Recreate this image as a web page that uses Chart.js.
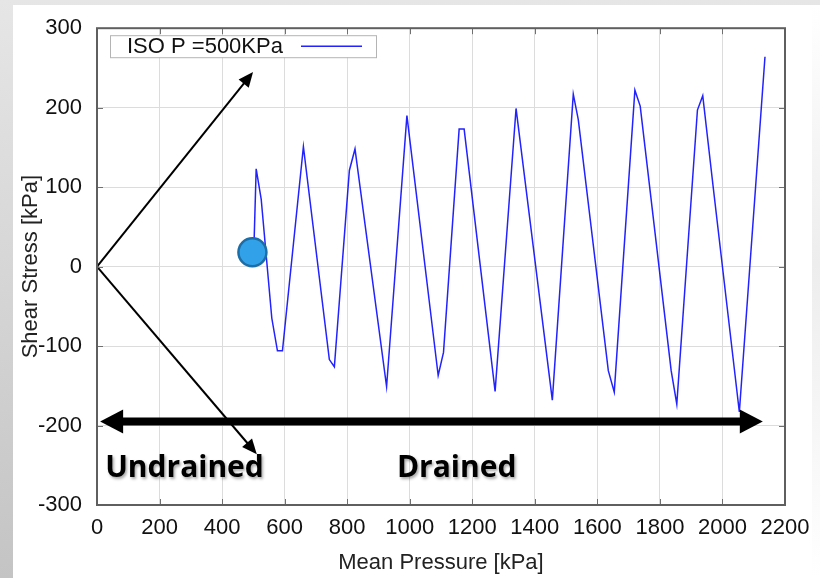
<!DOCTYPE html>
<html>
<head>
<meta charset="utf-8">
<script src="https://cdn.jsdelivr.net/npm/chart.js@4/dist/chart.umd.min.js"></script>
<style>
  html, body { margin: 0; padding: 0; width: 820px; height: 578px; overflow: hidden; }
  body { position: relative; background: linear-gradient(to bottom, #e6e6e6, #c4c4c4); }
  #sheet { position: absolute; left: 13px; top: 5px; right: 0; bottom: 0; background: #ffffff; }
  #edge { position: absolute; left: 812px; top: 5px; width: 8px; bottom: 0;
          background: linear-gradient(to bottom, #ffffff, #ededed 45%, #ffffff); }
  canvas { position: absolute; left: 0; top: 0; }
</style>
</head>
<body>
<div id="sheet"></div>
<div id="edge"></div>
<canvas id="chart" width="820" height="578"></canvas>
<script>
// Cyclic loading path: mean effective pressure p [kPa] vs shear stress q [kPa]
const seriesLabel = 'ISO P =500KPa';
const meanPressure = [500, 509, 525, 559, 577, 593, 660, 743, 759, 807, 825, 926, 991, 1091, 1108,
                      1158, 1174, 1273, 1340, 1456, 1523, 1539, 1635, 1654, 1720, 1737, 1836, 1854,
                      1920, 1937, 1971, 2054, 2136];
const shearStress  = [0, 123, 85, -65, -106, -106, 151, -117, -126, 121, 148, -151, 190, -137, -108,
                      173, 173, -157, 199, -168, 217, 185, -131, -158, 222, 202, -131, -173,
                      197, 215, 98, -183, 264];

// Initial state marker
const startPressure = [497];
const startShear = [18];

// Axis ticks
const xTicks = [0, 200, 400, 600, 800, 1000, 1200, 1400, 1600, 1800, 2000, 2200];
const yTicks = [-300, -200, -100, 0, 100, 200, 300];

// Annotation labels
const phaseLabels = ['Undrained', 'Drained'];

const FONT = '"Liberation Sans", Arial, Helvetica, sans-serif';

const curvePoints = meanPressure.map((p, i) => ({ x: p, y: shearStress[i] }));
const markerPoints = startPressure.map((p, i) => ({ x: p, y: startShear[i] }));

// Arrows and captions, placed in data units
const arrows = [
  { from: [0, 0], to: [499, 245], width: 2, head: 15, half: 6.5, both: false },
  { from: [0, 0], to: [511, -236], width: 2, head: 15, half: 6.5, both: false },
  { from: [10, -195], to: [2129, -195], width: 8, head: 23, half: 12, both: true }
];
const captions = [
  { text: phaseLabels[0], at: [26, -265] },
  { text: phaseLabels[1], at: [959, -265] }
];

function drawHead(ctx, x0, y0, x1, y1, len, half) {
  const a = Math.atan2(y1 - y0, x1 - x0);
  ctx.beginPath();
  ctx.moveTo(x1, y1);
  ctx.lineTo(x1 - len * Math.cos(a) + half * Math.sin(a), y1 - len * Math.sin(a) - half * Math.cos(a));
  ctx.lineTo(x1 - len * Math.cos(a) - half * Math.sin(a), y1 - len * Math.sin(a) + half * Math.cos(a));
  ctx.closePath();
  ctx.fill();
}

const decorations = {
  id: 'decorations',
  afterDatasetsDraw(chart) {
    const { ctx, scales: { x, y } } = chart;
    ctx.save();
    ctx.fillStyle = '#000';
    ctx.strokeStyle = '#000';
    arrows.forEach(a => {
      let x0 = x.getPixelForValue(a.from[0]), y0 = y.getPixelForValue(a.from[1]);
      let x1 = x.getPixelForValue(a.to[0]), y1 = y.getPixelForValue(a.to[1]);
      const ang = Math.atan2(y1 - y0, x1 - x0);
      const sx = a.both ? x0 + Math.cos(ang) * a.head * 0.8 : x0;
      const sy = a.both ? y0 + Math.sin(ang) * a.head * 0.8 : y0;
      const ex = x1 - Math.cos(ang) * a.head * 0.8;
      const ey = y1 - Math.sin(ang) * a.head * 0.8;
      ctx.lineWidth = a.width;
      ctx.beginPath();
      ctx.moveTo(sx, sy);
      ctx.lineTo(ex, ey);
      ctx.stroke();
      drawHead(ctx, x0, y0, x1, y1, a.head, a.half);
      if (a.both) drawHead(ctx, x1, y1, x0, y0, a.head, a.half);
    });
    ctx.font = 'bold 30px "Open Sans", Lato, sans-serif';
    ctx.textBaseline = 'alphabetic';
    ctx.textAlign = 'left';
    ctx.shadowColor = 'rgba(0,0,0,0.35)';
    ctx.shadowBlur = 3;
    ctx.shadowOffsetX = 1.5;
    ctx.shadowOffsetY = 1.5;
    captions.forEach(c => {
      ctx.fillText(c.text, x.getPixelForValue(c.at[0]), y.getPixelForValue(c.at[1]));
    });
    ctx.restore();
  },
  afterDraw(chart) {
    const { ctx, chartArea: ca, scales: { x, y } } = chart;
    ctx.save();
    // inward tick marks on all four sides
    ctx.strokeStyle = '#707070';
    ctx.lineWidth = 1;
    ctx.beginPath();
    xTicks.forEach(v => {
      const px = Math.round(x.getPixelForValue(v)) + 0.5;
      ctx.moveTo(px, ca.bottom); ctx.lineTo(px, ca.bottom - 6);
      ctx.moveTo(px, ca.top); ctx.lineTo(px, ca.top + 6);
    });
    yTicks.forEach(v => {
      const py = Math.round(y.getPixelForValue(v)) + 0.5;
      ctx.moveTo(ca.left, py); ctx.lineTo(ca.left + 6, py);
      ctx.moveTo(ca.right, py); ctx.lineTo(ca.right - 6, py);
    });
    ctx.stroke();
    // plot frame
    ctx.strokeStyle = '#5f5f5f';
    ctx.lineWidth = 2;
    ctx.strokeRect(ca.left, ca.top, ca.right - ca.left, ca.bottom - ca.top);
    // key box
    const ds = chart.data.datasets[1];
    const bx = ca.left + 13, by = ca.top + 7;
    ctx.fillStyle = '#fff';
    ctx.fillRect(bx, by, 266, 22);
    ctx.strokeStyle = '#b4b4b4';
    ctx.lineWidth = 1;
    ctx.strokeRect(bx + 0.5, by + 0.5, 266, 22);
    ctx.fillStyle = '#111';
    ctx.font = '22px ' + FONT;
    ctx.textBaseline = 'middle';
    ctx.textAlign = 'left';
    ctx.fillText(ds.label, bx + 17, by + 12);
    ctx.strokeStyle = ds.borderColor;
    ctx.lineWidth = 1.5;
    ctx.beginPath();
    ctx.moveTo(bx + 191, by + 11);
    ctx.lineTo(bx + 252, by + 11);
    ctx.stroke();
    ctx.restore();
  }
};

new Chart(document.getElementById('chart'), {
  type: 'scatter',
  data: {
    datasets: [
      {
        label: 'start',
        data: markerPoints,
        order: 0,
        pointRadius: 14,
        pointBackgroundColor: '#31a2e9',
        pointBorderColor: '#1d6ea6',
        pointBorderWidth: 2.5,
        showLine: false
      },
      {
        label: seriesLabel,
        data: curvePoints,
        order: 1,
        showLine: true,
        borderColor: 'rgba(10,10,255,0.9)',
        borderWidth: 1.5,
        pointRadius: 0,
        tension: 0,
        fill: false
      }
    ]
  },
  options: {
    responsive: false,
    animation: false,
    devicePixelRatio: 1,
    layout: { padding: { left: 0, top: 25, right: 35, bottom: 0 } },
    plugins: { legend: { display: false }, tooltip: { enabled: false } },
    scales: {
      x: {
        type: 'linear',
        min: 0, max: 2200,
        afterBuildTicks: s => { s.ticks = xTicks.map(v => ({ value: v })); },
        afterFit: s => { s.height = 73; },
        grid: { color: '#dcdcdc', lineWidth: 1, drawTicks: false },
        border: { display: false },
        ticks: { padding: 10, color: '#111', font: { family: FONT, size: 22 }, maxRotation: 0,
                 autoSkip: false, callback: v => String(v) },
        title: { display: true, text: 'Mean Pressure [kPa]', color: '#222',
                 font: { family: FONT, size: 22 }, padding: { top: 0, bottom: 2 } }
      },
      y: {
        type: 'linear',
        min: -300, max: 300,
        afterBuildTicks: s => { s.ticks = yTicks.map(v => ({ value: v })); },
        afterFit: s => { s.width = 97; },
        grid: { color: '#dcdcdc', lineWidth: 1, drawTicks: false },
        border: { display: false },
        ticks: { padding: 15, color: '#111', font: { family: FONT, size: 22 }, autoSkip: false,
                 callback: v => String(v) },
        title: { display: true, text: 'Shear Stress [kPa]', color: '#222',
                 font: { family: FONT, size: 22 }, padding: { top: 18, bottom: 0 } }
      }
    }
  },
  plugins: [decorations]
});
</script>
</body>
</html>
